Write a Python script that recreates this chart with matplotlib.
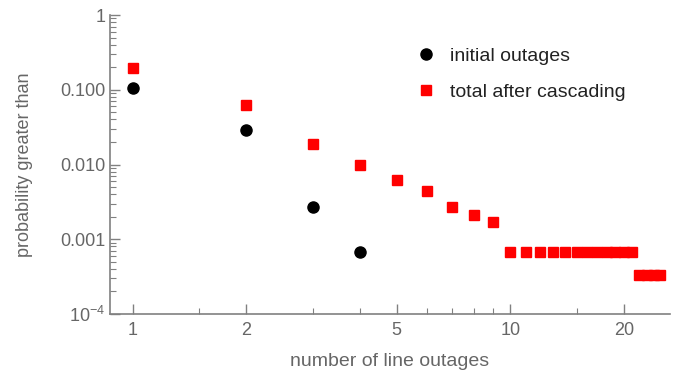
import matplotlib.pyplot as plt
from matplotlib.ticker import FixedLocator, FixedFormatter, NullFormatter

plt.rcParams['font.family'] = ['Liberation Sans', 'DejaVu Sans']
plt.rcParams['mathtext.default'] = 'regular'

# complementary cumulative distribution
n_initial = [1, 2, 3, 4]
p_initial = [0.107, 0.029, 0.0027, 0.00067]

n_total = [1, 2, 3, 4, 5, 6, 7, 8, 9, 10, 11, 12, 13, 14, 15, 16, 17, 18,
           19, 20, 21, 22, 23, 24, 25]
p_total = [0.196, 0.063, 0.019, 0.0098, 0.0062, 0.0044, 0.0027, 0.0021,
           0.0017, 0.00067, 0.00067, 0.00067, 0.00067, 0.00067, 0.00067,
           0.00067, 0.00067, 0.00067, 0.00067, 0.00067, 0.00067, 0.00033,
           0.00033, 0.00033, 0.00033]

x_major = [1, 2, 5, 10, 20]
x_minor = [1.5, 3, 4, 6, 7, 8, 9, 15]
y_major = [1e-4, 1e-3, 1e-2, 1e-1, 1]
y_labels = ['$10^{-4}$', '0.001', '0.010', '0.100', '1']

grey = '#808080'
label_grey = '#666666'

fig = plt.figure(figsize=(6.77, 3.74), dpi=100)
ax = fig.add_axes([110 / 677, 1 - 314 / 374, 560 / 677, 299 / 374])

ax.plot(n_initial, p_initial, 'o', color='black', markersize=8,
        label='initial outages', clip_on=False)
ax.plot(n_total, p_total, 's', color='#ff0000', markersize=7.5,
        label='total after cascading', clip_on=False)

ax.set_xscale('log')
ax.set_yscale('log')
ax.set_xlim(0.87, 26.5)
ax.set_ylim(1e-4, 1)

ax.xaxis.set_major_locator(FixedLocator(x_major))
ax.xaxis.set_major_formatter(FixedFormatter([str(v) for v in x_major]))
ax.xaxis.set_minor_locator(FixedLocator(x_minor))
ax.xaxis.set_minor_formatter(NullFormatter())
ax.yaxis.set_major_locator(FixedLocator(y_major))
ax.yaxis.set_major_formatter(FixedFormatter(y_labels))

for s in ['top', 'right']:
    ax.spines[s].set_visible(False)
for s in ['left', 'bottom']:
    ax.spines[s].set_color(grey)
    ax.spines[s].set_linewidth(1.2)

ax.tick_params(which='both', direction='in', colors=grey, labelcolor=label_grey,
               labelsize=13)
ax.tick_params(which='major', length=7, width=1)
ax.tick_params(which='minor', length=4, width=0.8)
ax.tick_params(axis='x', pad=6)

ax.set_xlabel('number of line outages', fontsize=14, color=label_grey)
ax.set_ylabel('probability greater than', fontsize=13, color=label_grey)
ax.xaxis.set_label_coords(0.5, -0.132)
ax.yaxis.set_label_coords(-0.138, 0.5)

ax.legend(loc='center left', bbox_to_anchor=(0.52, 0.803), frameon=False,
          fontsize=14, handlelength=0.8, handletextpad=0.8, labelspacing=0.95,
          labelcolor='#222222')

fig.savefig('out.png', dpi=100)
